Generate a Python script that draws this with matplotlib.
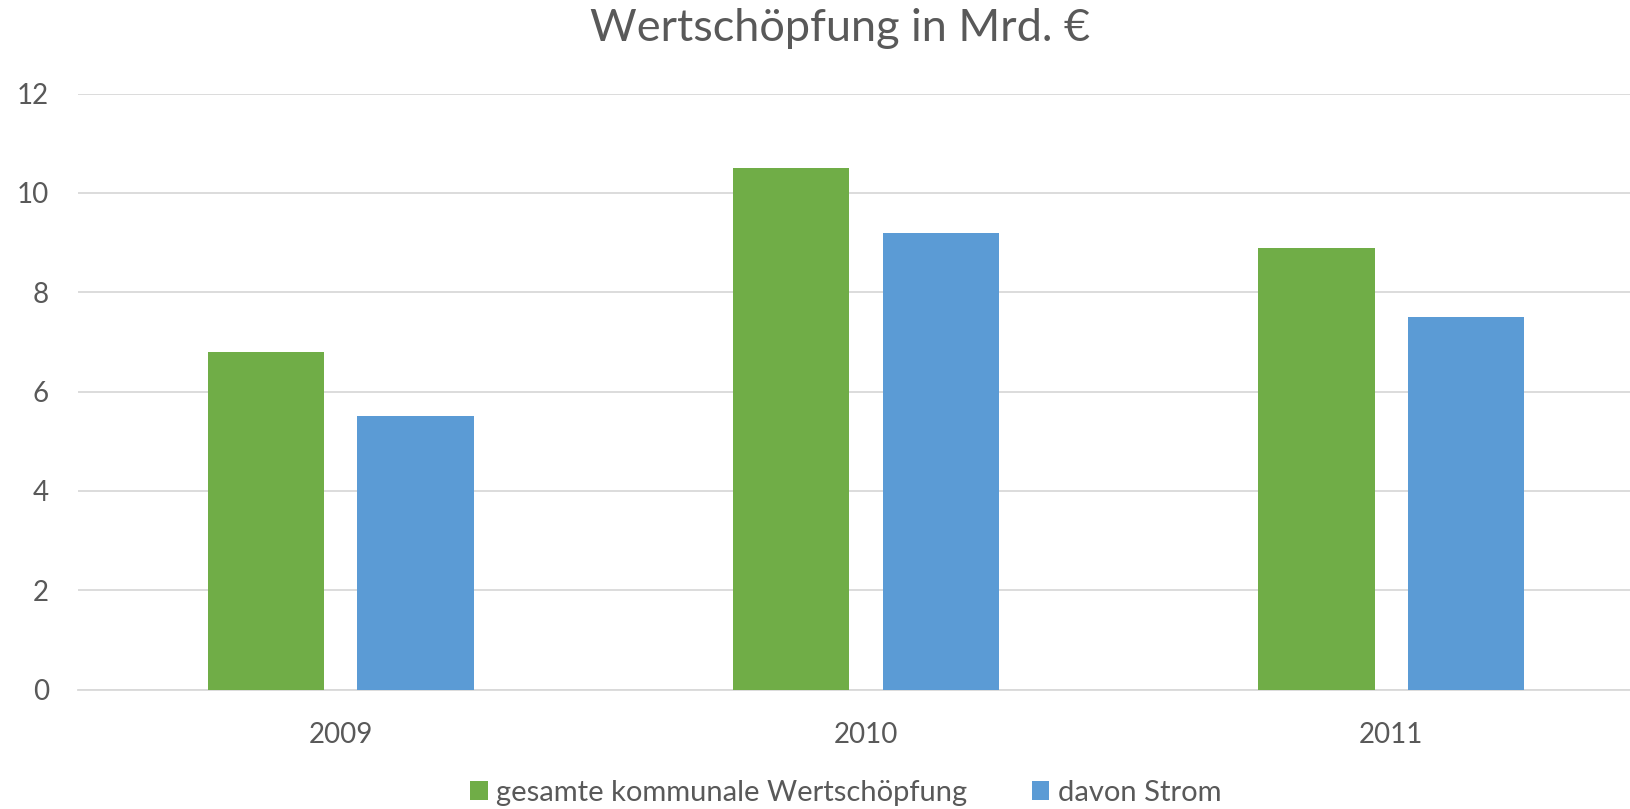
import matplotlib
matplotlib.use("Agg")
import matplotlib.pyplot as plt
import numpy as np

# Data
years = ["2009", "2010", "2011"]
gesamt = [6.8, 10.5, 8.9]
strom = [5.5, 9.2, 7.5]
labels = ["gesamte kommunale Wertschöpfung", "davon Strom"]
yticks = [0, 2, 4, 6, 8, 10, 12]

green = "#70AD47"
blue = "#5B9BD5"
text_col = "#595959"
grid_col = "#D9D9D9"

plt.rcParams['font.family'] = ['Lato', 'DejaVu Sans']

fig = plt.figure(figsize=(16.31, 8.09), dpi=100)
# axes runs a little past the right edge, like the source
ax = fig.add_axes([0.048, 0.1476, 0.966, 0.7367])

x = np.arange(len(years))
w = 0.222
off = 0.1426
ax.bar(x - off, gesamt, w, color=green, label=labels[0], zorder=3)
ax.bar(x + off, strom, w, color=blue, label=labels[1], zorder=3)

ax.set_xlim(-0.5, 2.5)
ax.set_ylim(0, 12)
ax.set_yticks(yticks)
ax.set_xticks(x)
ax.set_xticklabels(years)
ax.yaxis.grid(True, color=grid_col, linewidth=1.3, zorder=0)
ax.set_axisbelow(True)
for s in ["top", "right", "left"]:
    ax.spines[s].set_visible(False)
ax.spines["bottom"].set_color(grid_col)
ax.spines["bottom"].set_linewidth(1.3)
ax.tick_params(axis="both", length=0, labelsize=20, labelcolor=text_col)
ax.tick_params(axis="y", pad=21)
ax.tick_params(axis="x", pad=23)

fig.text(0.515, 0.965, "Wertschöpfung in Mrd. €", ha="center", va="center",
         fontsize=32.5, color=text_col)

leg = fig.legend(loc="center", bbox_to_anchor=(0.5185, 0.02), ncol=2, frameon=False,
                 fontsize=21, handlelength=0.6, handleheight=0.6, handletextpad=0.3,
                 columnspacing=2.2)
for t in leg.get_texts():
    t.set_color(text_col)

fig.savefig("out.png", dpi=100)
